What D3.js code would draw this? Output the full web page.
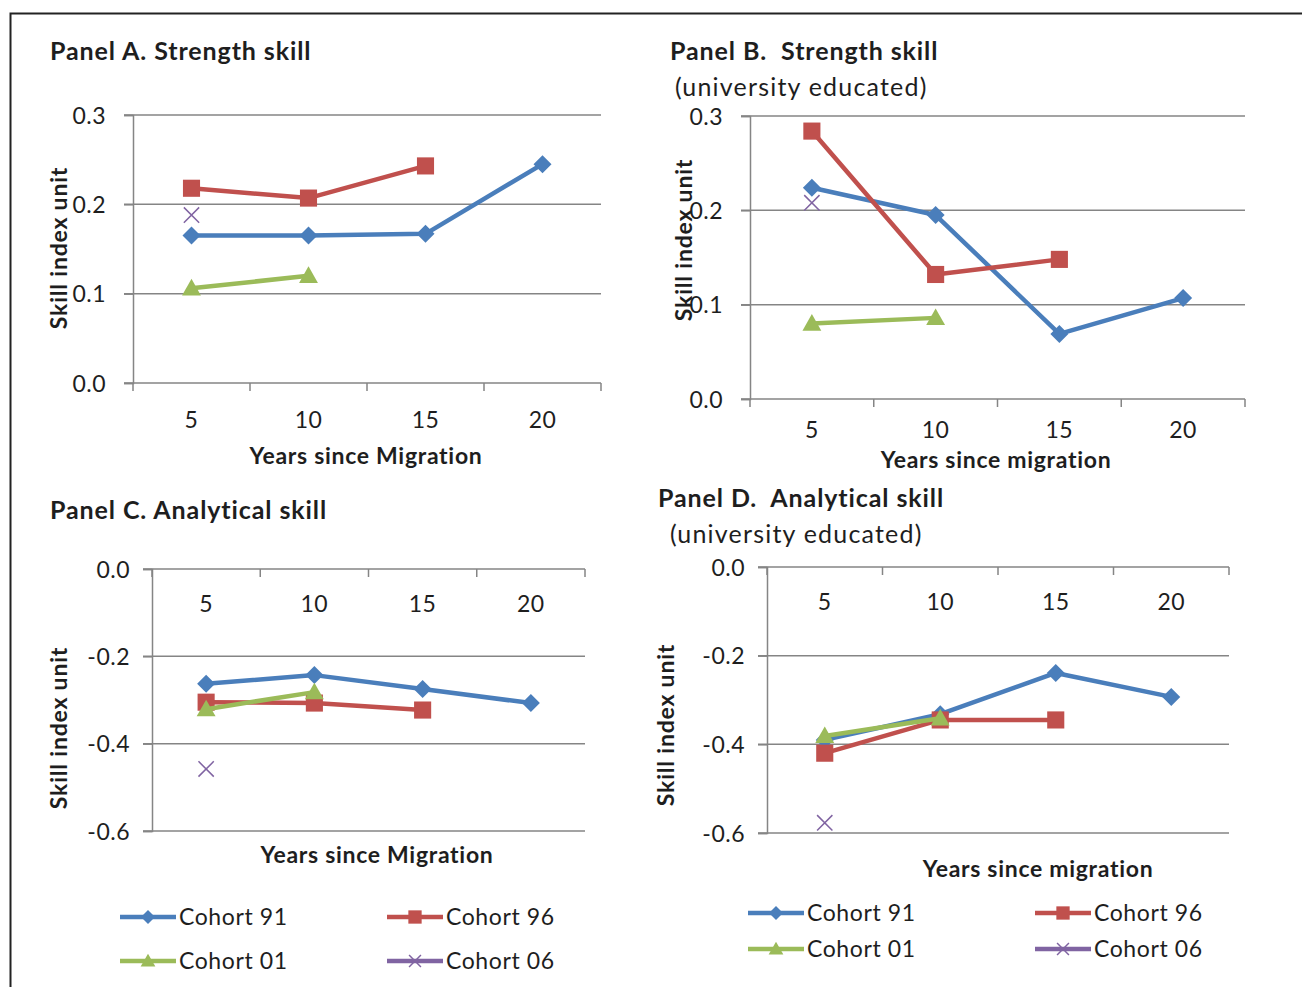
<!DOCTYPE html>
<html><head><meta charset="utf-8">
<script src="https://cdn.jsdelivr.net/npm/d3@7"></script>
<style>body{margin:0;background:#fff}svg{display:block}text{font-family:Lato,"Open Sans",sans-serif;fill:#1e1e1e;white-space:pre}</style>
</head><body><svg id="c" width="1302" height="987"></svg>
<script>
const years = ["5","10","15","20"];
const cohorts = ["Cohort 91","Cohort 96","Cohort 01","Cohort 06"];
const colors = ["#4a7ebb","#c0504d","#9bbb59","#8064a2"];
const markers = ["diamond","square","triangle","x"];
// Panel values (null = no data)
const panelA_c91 = [0.165,0.165,0.167,0.245];
const panelA_c96 = [0.218,0.207,0.243,null];
const panelA_c01 = [0.106,0.120,null,null];
const panelA_c06 = [0.188,null,null,null];
const panelB_c91 = [0.224,0.195,0.069,0.107];
const panelB_c96 = [0.284,0.132,0.148,null];
const panelB_c01 = [0.080,0.086,null,null];
const panelB_c06 = [0.208,null,null,null];
const panelC_c91 = [-0.263,-0.243,-0.275,-0.307];
const panelC_c96 = [-0.305,-0.307,-0.323,null];
const panelC_c01 = [-0.321,-0.282,null,null];
const panelC_c06 = [-0.458,null,null,null];
const panelD_c91 = [-0.390,-0.332,-0.239,-0.293];
const panelD_c96 = [-0.420,-0.345,-0.345,null];
const panelD_c01 = [-0.381,-0.341,null,null];
const panelD_c06 = [-0.577,null,null,null];
const ticksPos = [0,0.1,0.2,0.3];
const ticksNeg = [-0.6,-0.4,-0.2,0];

const svg = d3.select("#c");
svg.append("rect").attr("x",10.5).attr("y",13.5).attr("width",1400).attr("height",1100)
  .attr("fill","#fff").attr("stroke","#222").attr("stroke-width",2);

const panels = [
 {title:"Panel A. Strength skill", sub:null, tx:50, ty:60, x0:133,x1:601,yT:115,yB:383, dom:[0,0.3], ticks:ticksPos,
  xlabY:428, xtitle:"Years since Migration", xtY:464, xtX:366, ytX:67, ytY:248, axisAtTop:false, ylabOff:27,
  series:[panelA_c91,panelA_c96,panelA_c01,panelA_c06]},
 {title:"Panel B.  Strength skill", sub:"(university educated)", tx:670, ty:60, sx:675, sy:96, x0:750,x1:1245,yT:116,yB:399, dom:[0,0.3], ticks:ticksPos,
  xlabY:438, xtitle:"Years since migration", xtY:468, xtX:996, ytX:692, ytY:240, axisAtTop:false, ylabOff:27,
  series:[panelB_c91,panelB_c96,panelB_c01,panelB_c06]},
 {title:"Panel C. Analytical skill", sub:null, tx:50, ty:519, x0:152,x1:585,yT:569,yB:831, dom:[-0.6,0], ticks:ticksNeg,
  xlabY:612, xtitle:"Years since Migration", xtY:863, xtX:377, ytX:67, ytY:728, axisAtTop:true, ylabOff:22,
  series:[panelC_c91,panelC_c96,panelC_c01,panelC_c06]},
 {title:"Panel D.  Analytical skill", sub:"(university educated)", tx:658, ty:507, sx:670, sy:543, x0:767,x1:1229,yT:567,yB:833, dom:[-0.6,0], ticks:ticksNeg,
  xlabY:610, xtitle:"Years since migration", xtY:877, xtX:1038, ytX:674, ytY:725, axisAtTop:true, ylabOff:22,
  series:[panelD_c91,panelD_c96,panelD_c01,panelD_c06]}
];

function marker(g, type, x, y, color, s){
  if(type==="diamond"){
    g.append("path").attr("d",`M${x},${y-s}L${x+s},${y}L${x},${y+s}L${x-s},${y}Z`).attr("fill",color);
  } else if(type==="square"){
    g.append("rect").attr("x",x-s*0.95).attr("y",y-s*0.95).attr("width",s*1.9).attr("height",s*1.9).attr("fill",color);
  } else if(type==="triangle"){
    g.append("path").attr("d",`M${x},${y-s*1.05}L${x+s*1.05},${y+s*0.8}L${x-s*1.05},${y+s*0.8}Z`).attr("fill",color);
  } else {
    const d=s*0.85;
    g.append("path").attr("d",`M${x-d},${y-d}L${x+d},${y+d}M${x-d},${y+d}L${x+d},${y-d}`)
     .attr("stroke",color).attr("stroke-width",1.5).attr("fill","none");
  }
}
const fmt = d => d3.format(".1f")(d).replace("\u2212","-");

panels.forEach(p=>{
  const g = svg.append("g");
  const x = d3.scaleBand().domain(years).range([p.x0,p.x1]);
  const y = d3.scaleLinear().domain(p.dom).range([p.yB,p.yT]);
  g.append("text").attr("x",p.tx).attr("y",p.ty).attr("font-size",25).attr("font-weight","bold")
   .attr("letter-spacing",0.9).text(p.title);
  if(p.sub) g.append("text").attr("x",p.sx).attr("y",p.sy).attr("font-size",25).attr("letter-spacing",1.2).text(p.sub);
  g.selectAll(".grid").data(p.ticks).enter().append("line")
   .attr("x1",p.x0-9).attr("x2",p.x1).attr("y1",d=>y(d)).attr("y2",d=>y(d))
   .attr("stroke","#858585").attr("stroke-width",1.5);
  const ya = g.append("g").attr("transform",`translate(${p.x0},0)`)
    .call(d3.axisLeft(y).tickValues(p.ticks).tickFormat(fmt).tickSize(9).tickPadding(p.ylabOff-9));
  ya.select(".domain").attr("stroke","#858585").attr("stroke-width",1.5);
  ya.selectAll(".tick line").attr("stroke","#858585").attr("stroke-width",1.5);
  ya.selectAll(".tick text").attr("font-size",23).attr("font-family","Lato,sans-serif").attr("fill","#1e1e1e")
    .attr("dy","0.35em").attr("letter-spacing",0.5);
  const axY = p.axisAtTop ? y(0) : y(p.dom[0]);
  const bounds = years.map(d=>x(d)).concat([p.x1]);
  g.selectAll(".xt").data(bounds).enter().append("line")
   .attr("x1",d=>d).attr("x2",d=>d).attr("y1",axY).attr("y2",axY+8)
   .attr("stroke","#858585").attr("stroke-width",1.5);
  g.selectAll(".xl").data(years).enter().append("text")
   .attr("x",d=>x(d)+x.bandwidth()/2).attr("y",p.xlabY).attr("text-anchor","middle").attr("font-size",23)
   .attr("letter-spacing",0.5).text(d=>d);
  g.append("text").attr("x",p.xtX).attr("y",p.xtY).attr("text-anchor","middle").attr("font-size",23)
   .attr("font-weight","bold").attr("letter-spacing",0.7).text(p.xtitle);
  g.append("text").attr("transform",`translate(${p.ytX},${p.ytY}) rotate(-90)`).attr("text-anchor","middle")
   .attr("font-size",23).attr("font-weight","bold").attr("letter-spacing",0.8).text("Skill index unit");
  p.series.forEach((vals,i)=>{
    const pts = vals.map((v,j)=>({k:years[j],v})).filter(d=>d.v!==null);
    const line = d3.line().x(d=>x(d.k)+x.bandwidth()/2).y(d=>y(d.v));
    if(pts.length>1) g.append("path").attr("d",line(pts)).attr("fill","none").attr("stroke",colors[i])
      .attr("stroke-width",4.5).attr("stroke-linejoin","round");
    pts.forEach(d=>marker(g,markers[i],x(d.k)+x.bandwidth()/2,y(d.v),colors[i],9));
  });
});

const legends = [
 {items:[[120,917],[387,917],[120,961],[387,961]]},
 {items:[[748,913],[1035,913],[748,949],[1035,949]]}
];
legends.forEach(L=>{
  const g = svg.append("g");
  cohorts.forEach((c,i)=>{
    const [lx,ly] = L.items[i];
    g.append("line").attr("x1",lx).attr("x2",lx+56).attr("y1",ly).attr("y2",ly).attr("stroke",colors[i]).attr("stroke-width",4.5);
    marker(g,markers[i],lx+28,ly,colors[i],7);
    g.append("text").attr("x",lx+59).attr("y",ly).attr("dy","0.35em").attr("font-size",23).attr("letter-spacing",0.6).text(c);
  });
});
</script></body></html>
